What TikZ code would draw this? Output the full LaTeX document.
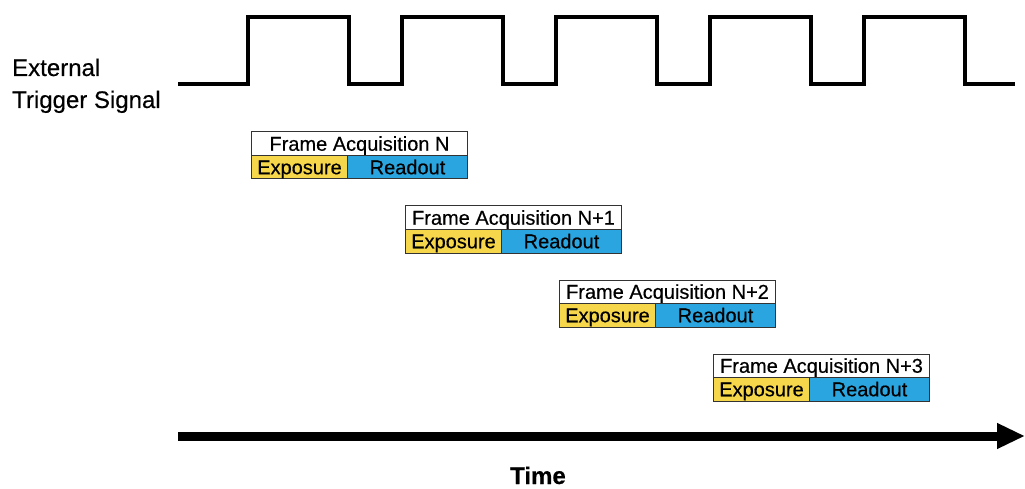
\documentclass[tikz,border=0pt]{standalone}
\usepackage{fontspec}
\setmainfont{Liberation Sans}[FakeBold=0.4]
\usetikzlibrary{arrows.meta}
\definecolor{expcol}{HTML}{F6D64A}
\definecolor{rocol}{HTML}{2AA5DF}
\definecolor{edgecol}{HTML}{333333}
\tikzset{
  cell/.style={draw=edgecol, line width=1pt, inner sep=0pt, anchor=north west,
    minimum height=23.5pt, text height=14pt, text depth=0pt,
    font=\fontsize{20}{22}\selectfont},
  titlecell/.style={cell, fill=white, minimum width=216pt},
  expcell/.style={cell, fill=expcol, minimum width=96pt},
  rocell/.style={cell, fill=rocol, minimum width=120pt},
  signal/.style={line width=4pt, line join=miter, line cap=butt},
  axis/.style={line width=9pt, -{Triangle[length=28pt,width=24pt]}},
  label/.style={inner sep=0pt, font=\fontsize{24}{28}\selectfont}
}
\begin{document}
\begin{tikzpicture}[x=1pt,y=-1pt]
\useasboundingbox (0,0) rectangle (1025,489);
% trigger signal
\draw[signal] (178,84) -- (248,84) -- (248,17) -- (349,17) -- (349,84)
  -- (402,84) -- (402,17) -- (503,17) -- (503,84)
  -- (556,84) -- (556,17) -- (657,17) -- (657,84)
  -- (710,84) -- (710,17) -- (811,17) -- (811,84)
  -- (864,84) -- (864,17) -- (965,17) -- (965,84) -- (1015,84);
\node[label, anchor=base west] (ext) at (12,76) {External};
\node[label, anchor=base west] (trig) at (12,108) {Trigger Signal};
% frames
\foreach \i/\lab in {0/N,1/N+1,2/N+2,3/N+3}{
  \pgfmathsetmacro{\xo}{251+154*\i}
  \pgfmathsetmacro{\yo}{131.5+74*\i}
  \node[titlecell] (fa\i) at (\xo,\yo) {Frame Acquisition \lab};
  \node[expcell] (ex\i) at (\xo,\yo+23.5) {Exposure};
  \node[rocell] (ro\i) at (\xo+96,\yo+23.5) {Readout};
}
% time axis
\coordinate (tstart) at (178,436);
\coordinate (tend) at (1025,436);
\draw[axis] (tstart) -- (tend);
\node[inner sep=0pt, anchor=base, font=\fontsize{24}{28}\selectfont\bfseries] (time) at (538,484) {Time};
\end{tikzpicture}
\end{document}
